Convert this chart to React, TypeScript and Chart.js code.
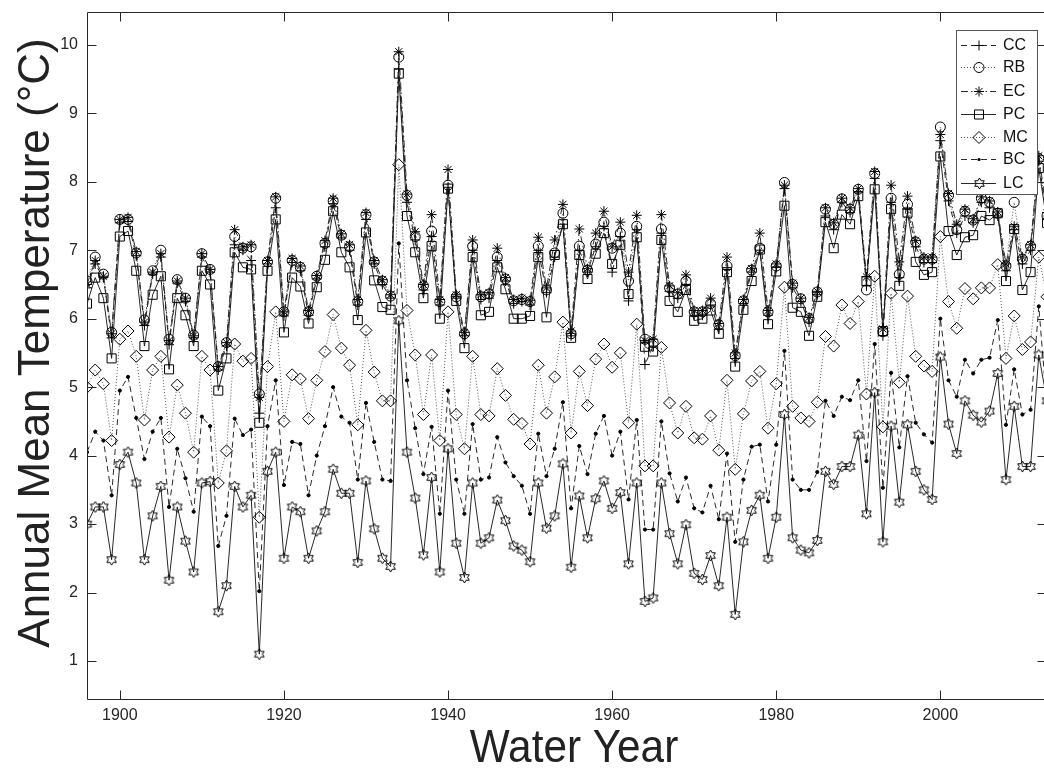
import React, { useEffect, useRef } from "react";
import { Chart, registerables } from "chart.js";
Chart.register(...registerables);

const FONT = '"Liberation Sans", Arial, Helvetica, sans-serif';

const YEARS = [
  1896, 1897, 1898, 1899,
  1900, 1901, 1902, 1903, 1904, 1905, 1906, 1907, 1908, 1909,
  1910, 1911, 1912, 1913, 1914, 1915, 1916, 1917, 1918, 1919,
  1920, 1921, 1922, 1923, 1924, 1925, 1926, 1927, 1928, 1929,
  1930, 1931, 1932, 1933, 1934, 1935, 1936, 1937, 1938, 1939,
  1940, 1941, 1942, 1943, 1944, 1945, 1946, 1947, 1948, 1949,
  1950, 1951, 1952, 1953, 1954, 1955, 1956, 1957, 1958, 1959,
  1960, 1961, 1962, 1963, 1964, 1965, 1966, 1967, 1968, 1969,
  1970, 1971, 1972, 1973, 1974, 1975, 1976, 1977, 1978, 1979,
  1980, 1981, 1982, 1983, 1984, 1985, 1986, 1987, 1988, 1989,
  1990, 1991, 1992, 1993, 1994, 1995, 1996, 1997, 1998, 1999,
  2000, 2001, 2002, 2003, 2004, 2005, 2006, 2007, 2008, 2009,
  2010, 2011, 2012, 2013,
];

const CC = [
  6.45, 6.8, 6.6, 5.72,
  7.4, 7.42, 6.92, 5.9, 6.65, 6.9, 5.62, 6.52, 6.25, 5.72,
  6.9, 6.68, 5.25, 5.6, 7.08, 7.0, 6.85, 4.62, 6.8, 7.62,
  6.04, 6.82, 6.7, 6.05, 6.58, 7.05, 7.68, 7.18, 7.0, 6.2,
  7.45, 6.8, 6.5, 6.3, 9.65, 7.7, 7.15, 6.42, 7.2, 6.2,
  7.92, 6.3, 5.75, 7.0, 6.28, 6.3, 6.85, 6.55, 6.22, 6.25,
  6.2, 7.0, 6.38, 6.9, 7.38, 5.75, 7.0, 6.68, 7.05, 7.35,
  6.68, 7.2, 6.26, 7.3, 5.33, 5.6, 7.25, 6.4, 6.3, 6.5,
  6.05, 6.05, 6.2, 5.85, 6.72, 5.42, 6.22, 6.68, 7.0, 6.05,
  6.75, 7.9, 6.45, 6.25, 5.95, 6.35, 7.5, 7.3, 7.7, 7.55,
  7.85, 6.48, 8.05, 5.75, 7.7, 6.6, 7.6, 7.05, 6.82, 6.82,
  8.6, 7.72, 7.25, 7.5, 7.4, 7.7, 7.62, 7.5, 6.7, 7.3,
  6.8, 7.0, 8.3, 7.45,
];

const RB = [
  6.55, 6.9, 6.65, 5.8,
  7.45, 7.45, 6.96, 5.98, 6.7, 7.0, 5.7, 6.57, 6.3, 5.76,
  6.95, 6.72, 5.3, 5.65, 7.2, 7.03, 7.05, 4.9, 6.83, 7.76,
  6.1, 6.85, 6.75, 6.1, 6.62, 7.1, 7.72, 7.22, 7.05, 6.25,
  7.52, 6.83, 6.55, 6.33, 9.82, 7.8, 7.2, 6.48, 7.28, 6.25,
  7.95, 6.32, 5.78, 7.06, 6.32, 6.36, 6.9, 6.58, 6.26, 6.28,
  6.25, 7.06, 6.42, 6.96, 7.54, 5.78, 7.06, 6.71, 7.09, 7.41,
  7.03, 7.25, 6.55, 7.35, 5.7, 5.65, 7.31, 6.45, 6.36, 6.55,
  6.1, 6.1, 6.22, 5.91, 6.77, 5.46, 6.26, 6.71, 7.03, 6.1,
  6.77, 7.99, 6.5, 6.29, 6.0, 6.39, 7.6, 7.38, 7.75, 7.6,
  7.89, 6.42, 8.12, 5.81, 7.76, 6.65, 7.67, 7.12, 6.87, 6.87,
  8.8, 7.8, 7.3, 7.57, 7.44, 7.76, 7.7, 7.54, 6.77, 7.7,
  6.87, 7.06, 8.34, 7.5,
];

const EC = [
  6.5, 6.85, 6.62, 5.78,
  7.45, 7.48, 6.98, 5.95, 6.68, 6.95, 5.68, 6.55, 6.3, 5.75,
  6.95, 6.72, 5.3, 5.65, 7.3, 7.05, 7.08, 4.85, 6.85, 7.78,
  6.1, 6.88, 6.77, 6.12, 6.63, 7.14, 7.76, 7.24, 7.08, 6.28,
  7.55, 6.85, 6.57, 6.35, 9.9, 7.82, 7.27, 6.5, 7.52, 6.28,
  8.18, 6.35, 5.8, 7.15, 6.35, 6.38, 7.03, 6.6, 6.28, 6.3,
  6.27, 7.19, 6.45, 7.15, 7.67, 5.82, 7.31, 6.73, 7.25, 7.57,
  7.05, 7.41, 6.68, 7.51, 5.68, 5.7, 7.52, 6.48, 6.38, 6.64,
  6.12, 6.12, 6.3, 5.93, 6.9, 5.5, 6.28, 6.73, 7.25, 6.12,
  6.8, 7.95, 6.52, 6.3, 6.02, 6.4, 7.62, 7.4, 7.76, 7.62,
  7.9, 6.61, 8.15, 5.85, 7.95, 6.83, 7.79, 7.14, 6.9, 6.9,
  8.69, 7.83, 7.38, 7.6, 7.46, 7.78, 7.72, 7.56, 6.8, 7.35,
  6.9, 7.08, 8.38, 7.55,
];

const PC = [
  6.22, 6.6, 6.3, 5.42,
  7.2, 7.28, 6.7, 5.6, 6.35, 6.62, 5.26, 6.3, 6.05, 5.6,
  6.7, 6.5, 4.95, 5.42, 6.97, 6.75, 6.72, 4.48, 6.7, 7.45,
  5.8, 6.6, 6.47, 5.93, 6.46, 6.86, 7.57, 6.97, 6.75, 5.98,
  7.26, 6.56, 6.17, 6.13, 9.58, 7.5, 6.97, 6.3, 7.06, 6.0,
  7.9, 6.26, 5.57, 6.9, 6.05, 6.1, 6.75, 6.43, 6.0, 6.0,
  6.04, 6.9, 6.02, 6.93, 7.38, 5.72, 6.93, 6.58, 6.95, 7.25,
  6.8, 7.08, 6.36, 7.19, 5.59, 5.52, 7.15, 6.26, 6.1, 6.42,
  5.97, 6.0, 6.12, 5.78, 6.68, 5.3, 6.13, 6.55, 7.01, 5.92,
  6.69, 7.65, 6.16, 6.1, 5.75, 6.32, 7.41, 7.03, 7.52, 7.38,
  7.79, 6.55, 7.89, 5.82, 7.6, 6.48, 7.55, 6.83, 6.64, 6.68,
  8.37, 7.28, 6.93, 7.19, 7.22, 7.5, 7.44, 7.54, 6.55, 7.31,
  6.42, 6.68, 8.2, 7.4,
];

const MC = [
  5.0, 5.25, 5.05, 4.22,
  5.7, 5.82, 5.45, 4.52, 5.25, 5.45, 4.27, 5.03, 4.62, 4.05,
  5.45, 5.25, 3.6, 4.07, 5.63, 5.38, 5.42, 3.1, 5.3, 6.1,
  4.5, 5.18, 5.12, 4.54, 5.1, 5.52, 6.06, 5.57, 5.32, 4.45,
  5.83, 5.22, 4.8, 4.8, 8.25, 6.12, 5.47, 4.6, 5.47, 4.22,
  6.1, 4.6, 4.1, 5.45, 4.6, 4.58, 5.27, 4.88, 4.53, 4.47,
  4.17, 5.32, 4.62, 5.15, 5.95, 4.33, 5.23, 4.73, 5.41, 5.63,
  5.29, 5.5, 4.48, 5.92, 3.85, 3.85, 5.58, 4.77, 4.33, 4.72,
  4.26, 4.24, 4.58, 4.08, 5.1, 3.8, 4.61, 5.09, 5.23, 4.4,
  5.05, 6.46, 4.72, 4.55, 4.5, 4.78, 5.74, 5.6, 6.2, 5.93,
  6.25, 4.9, 6.62, 4.42, 6.37, 5.07, 6.33, 5.45, 5.31, 5.23,
  7.2, 6.25, 5.86, 6.44, 6.29, 6.45, 6.45, 6.79, 5.42, 6.04,
  5.55, 5.66, 6.9, 6.32,
];

const BC = [
  4.05, 4.35, 4.22, 3.42,
  4.95, 5.15, 4.55, 3.95, 4.35, 4.55, 3.25, 4.1, 3.67, 3.18,
  4.57, 4.43, 2.68, 3.12, 4.54, 4.3, 4.38, 2.02, 4.43, 5.1,
  3.57, 4.2, 4.17, 3.42, 4.0, 4.43, 5.0, 4.57, 4.48, 3.65,
  4.77, 4.2, 3.65, 3.63, 7.1, 5.1, 4.4, 3.73, 4.42, 3.15,
  4.95, 3.65, 3.15, 4.46, 3.65, 3.68, 4.27, 3.9, 3.7, 3.56,
  3.15, 4.32, 3.7, 4.1, 4.78, 3.23, 4.14, 3.73, 4.32, 4.58,
  4.0, 4.35, 3.36, 4.52, 2.92, 2.92, 4.5, 3.74, 3.33, 3.68,
  3.23, 3.17, 3.56, 3.07, 4.03, 2.74, 3.65, 4.13, 4.16, 3.33,
  4.16, 5.53, 3.65, 3.5, 3.5, 3.76, 4.8, 4.58, 4.86, 4.81,
  5.1, 3.92, 5.63, 3.53, 5.21, 4.12, 5.16, 4.48, 4.31, 4.19,
  6.0, 5.1, 4.86, 5.4, 5.2, 5.4, 5.43, 5.98, 4.45, 5.26,
  4.6, 4.67, 6.18, 4.7,
];

const LC = [
  3.0, 3.25, 3.25, 2.48,
  3.87, 4.05, 3.6, 2.48, 3.12, 3.55, 2.18, 3.25, 2.75, 2.3,
  3.6, 3.62, 1.72, 2.1, 3.55, 3.25, 3.42, 1.1, 3.77, 4.05,
  2.5, 3.25, 3.18, 2.5, 2.9, 3.18, 3.8, 3.45, 3.45, 2.44,
  3.63, 2.93, 2.5, 2.38, 5.97, 4.05, 3.38, 2.55, 3.68, 2.3,
  4.1, 2.72, 2.22, 3.6, 2.72, 2.8, 3.35, 3.05, 2.68, 2.62,
  2.45, 3.6, 2.94, 3.12, 3.88, 2.37, 3.41, 2.8, 3.37, 3.63,
  3.23, 3.46, 2.42, 3.6, 1.87, 1.92, 3.6, 2.86, 2.42, 2.99,
  2.28, 2.19, 2.54, 2.1, 3.1, 1.68, 2.74, 3.2, 3.42, 2.5,
  3.1, 4.6, 2.8, 2.62, 2.58, 2.76, 3.77, 3.58, 3.84, 3.84,
  4.3, 3.15, 4.92, 2.74, 4.43, 3.32, 4.45, 3.77, 3.5, 3.36,
  5.44, 4.46, 4.03, 4.8, 4.59, 4.49, 4.65, 5.2, 3.65, 4.72,
  3.84, 3.84, 5.47, 4.8,
];

const X_TICKS = [1900, 1920, 1940, 1960, 1980, 2000];
const Y_TICKS = [1, 2, 3, 4, 5, 6, 7, 8, 9, 10];
const X_TITLE = "Water Year";
const Y_TITLE = "Annual Mean Temperature (°C)";

function makeHexagram(size: number): HTMLCanvasElement {
  const c = document.createElement("canvas");
  c.width = size;
  c.height = size;
  const ctx = c.getContext("2d")!;
  const cx = size / 2;
  const cy = size / 2;
  const R = size / 2 - 1;
  const r = R / Math.sqrt(3);
  ctx.beginPath();
  for (let i = 0; i < 12; i++) {
    const ang = -Math.PI / 2 + (i * Math.PI) / 6;
    const rad = i % 2 === 0 ? R : r;
    const px = cx + rad * Math.cos(ang);
    const py = cy + rad * Math.sin(ang);
    if (i === 0) ctx.moveTo(px, py);
    else ctx.lineTo(px, py);
  }
  ctx.closePath();
  ctx.strokeStyle = "#000";
  ctx.lineWidth = 1;
  ctx.stroke();
  return c;
}

type Kind = "cross" | "circle" | "star" | "rect" | "rectRot" | "dot" | "hex";

function drawMarker(ctx: CanvasRenderingContext2D, kind: Kind, x: number, y: number, r: number, img?: HTMLCanvasElement) {
  ctx.save();
  ctx.setLineDash([]);
  ctx.strokeStyle = "#000";
  ctx.fillStyle = "#000";
  ctx.lineWidth = 1;
  ctx.beginPath();
  if (kind === "cross") {
    ctx.moveTo(x - r, y); ctx.lineTo(x + r, y);
    ctx.moveTo(x, y - r); ctx.lineTo(x, y + r);
    ctx.stroke();
  } else if (kind === "circle") {
    ctx.arc(x, y, r, 0, Math.PI * 2);
    ctx.stroke();
  } else if (kind === "star") {
    for (let k = 0; k < 4; k++) {
      const a = (k * Math.PI) / 4;
      ctx.moveTo(x - r * Math.cos(a), y - r * Math.sin(a));
      ctx.lineTo(x + r * Math.cos(a), y + r * Math.sin(a));
    }
    ctx.stroke();
  } else if (kind === "rect") {
    const s = r * Math.SQRT1_2;
    ctx.rect(x - s, y - s, 2 * s, 2 * s);
    ctx.stroke();
  } else if (kind === "rectRot") {
    ctx.moveTo(x, y - r); ctx.lineTo(x + r, y); ctx.lineTo(x, y + r); ctx.lineTo(x - r, y);
    ctx.closePath();
    ctx.stroke();
  } else if (kind === "dot") {
    ctx.arc(x, y, r, 0, Math.PI * 2);
    ctx.fill();
  } else if (kind === "hex" && img) {
    ctx.drawImage(img, Math.round(x - img.width / 2), Math.round(y - img.height / 2));
  }
  ctx.restore();
}

export default function App() {
  const ref = useRef<HTMLCanvasElement | null>(null);

  useEffect(() => {
    if (!ref.current) return;
    const hex = makeHexagram(13);
    const series: { label: string; values: number[]; dash: number[]; kind: Kind; radius: number; width: number; color: string }[] = [
      { label: "CC", values: CC, dash: [6, 4], kind: "cross", radius: 5, width: 0.9, color: "#111" },
      { label: "RB", values: RB, dash: [1, 2], kind: "circle", radius: 5, width: 1, color: "#555" },
      { label: "EC", values: EC, dash: [7, 3, 1.5, 3], kind: "star", radius: 5, width: 0.9, color: "#111" },
      { label: "PC", values: PC, dash: [], kind: "rect", radius: 6.4, width: 0.9, color: "#111" },
      { label: "MC", values: MC, dash: [1, 2], kind: "rectRot", radius: 6, width: 1, color: "#555" },
      { label: "BC", values: BC, dash: [6, 4], kind: "dot", radius: 1.6, width: 0.9, color: "#111" },
      { label: "LC", values: LC, dash: [], kind: "hex", radius: 6, width: 0.9, color: "#111" },
    ];

    const styleOf = (k: Kind): any =>
      k === "hex" ? hex : k === "dot" ? "circle" : k;

    const datasets = series.map((s) => ({
      label: s.label,
      data: YEARS.map((yr, i) => ({ x: yr, y: s.values[i] })),
      borderColor: s.color,
      borderWidth: s.width,
      borderDash: s.dash,
      pointStyle: styleOf(s.kind),
      pointRadius: s.radius,
      pointBorderColor: "#000",
      pointBorderWidth: 1,
      pointBackgroundColor: s.kind === "dot" ? "#000" : "rgba(0,0,0,0)",
      fill: false,
      tension: 0,
    }));

    const frame = {
      id: "frame",
      afterDraw(chart: any) {
        const { ctx, chartArea: a, scales } = chart;
        const xs = scales.x;
        const ys = scales.y;
        ctx.save();
        ctx.setLineDash([]);
        ctx.strokeStyle = "#262626";
        ctx.lineWidth = 1;
        const L = Math.round(a.left) + 0.5;
        const R = Math.round(a.right) - 0.5;
        const T = Math.round(a.top) + 0.5;
        const B = Math.round(a.bottom) - 0.5;
        ctx.beginPath();
        ctx.rect(L, T, R - L, B - T);
        const tl = 9;
        for (const v of Y_TICKS) {
          const py = Math.round(ys.getPixelForValue(v)) + 0.5;
          ctx.moveTo(L, py); ctx.lineTo(L + tl, py);
          ctx.moveTo(R, py); ctx.lineTo(R - tl, py);
        }
        for (const v of X_TICKS) {
          const px = Math.round(xs.getPixelForValue(v)) + 0.5;
          ctx.moveTo(px, B); ctx.lineTo(px, B - tl);
          ctx.moveTo(px, T); ctx.lineTo(px, T + tl);
        }
        ctx.stroke();

        // titles
        ctx.fillStyle = "#222";
        ctx.textAlign = "center";
        ctx.textBaseline = "alphabetic";
        ctx.save();
        ctx.font = `47px ${FONT}`;
        ctx.translate(574, 762);
        ctx.scale(0.9, 1);
        ctx.fillText(X_TITLE, 0, 0);
        ctx.restore();
        ctx.save();
        ctx.font = `44px ${FONT}`;
        ctx.translate(49, 343);
        ctx.rotate(-Math.PI / 2);
        ctx.fillText(Y_TITLE, 0, 0);
        ctx.restore();

        // legend
        const bx = 956, by = 30, bw = 81, bh = 164;
        ctx.fillStyle = "#fff";
        ctx.fillRect(bx, by, bw, bh);
        ctx.strokeStyle = "#555";
        ctx.strokeRect(bx + 0.5, by + 0.5, bw, bh);
        const rows = [45, 67, 91, 114, 137, 159, 183];
        ctx.font = `16px ${FONT}`;
        ctx.textAlign = "left";
        ctx.textBaseline = "middle";
        series.forEach((s, i) => {
          const ry = rows[i] + 0.5;
          ctx.save();
          ctx.strokeStyle = s.color;
          ctx.lineWidth = s.width;
          ctx.setLineDash(s.dash);
          ctx.beginPath();
          ctx.moveTo(961, ry);
          ctx.lineTo(996, ry);
          ctx.stroke();
          ctx.restore();
          drawMarker(ctx, s.kind, 979, ry, s.kind === "dot" ? 1.6 : s.radius, hex);
          ctx.fillStyle = "#111";
          ctx.fillText(s.label, 1003, rows[i] + 1);
        });
        ctx.restore();
      },
    };

    const chart = new Chart(ref.current, {
      type: "line",
      data: { datasets: datasets as any },
      options: {
        animation: false,
        responsive: false,
        devicePixelRatio: 1,
        layout: { autoPadding: false, padding: { top: 12, right: 5, left: 0, bottom: 0 } },
        plugins: { legend: { display: false }, tooltip: { enabled: false }, title: { display: false } },
        scales: {
          x: {
            type: "linear",
            min: 1896,
            max: 2013,
            grid: { display: false, drawTicks: false },
            border: { display: false },
            afterBuildTicks: (s: any) => { s.ticks = X_TICKS.map((v) => ({ value: v })); },
            afterFit: (s: any) => { s.height = 70; s.paddingLeft = 0; s.paddingRight = 0; s.paddingTop = 0; s.paddingBottom = 0; },
            ticks: { font: { family: FONT, size: 16 }, color: "#262626", padding: 6, maxRotation: 0, autoSkip: false, callback: (v: any) => String(v) },
          },
          y: {
            type: "linear",
            min: 0.43,
            max: 10.48,
            grid: { display: false, drawTicks: false },
            border: { display: false },
            afterBuildTicks: (s: any) => { s.ticks = Y_TICKS.map((v) => ({ value: v })); },
            afterFit: (s: any) => { s.width = 87; s.paddingLeft = 0; s.paddingRight = 0; s.paddingTop = 0; s.paddingBottom = 0; },
            ticks: { font: { family: FONT, size: 16 }, color: "#262626", padding: 9, autoSkip: false, callback: (v: any) => String(v) },
          },
        },
      },
      plugins: [frame],
    });
    return () => chart.destroy();
  }, []);

  return (
    <div style={{ position: "fixed", left: 0, top: 0, width: 1044, height: 770, overflow: "hidden", background: "#fff" }}>
      <canvas ref={ref} width={1052} height={770} style={{ display: "block", width: 1052, height: 770 }} />
    </div>
  );
}
